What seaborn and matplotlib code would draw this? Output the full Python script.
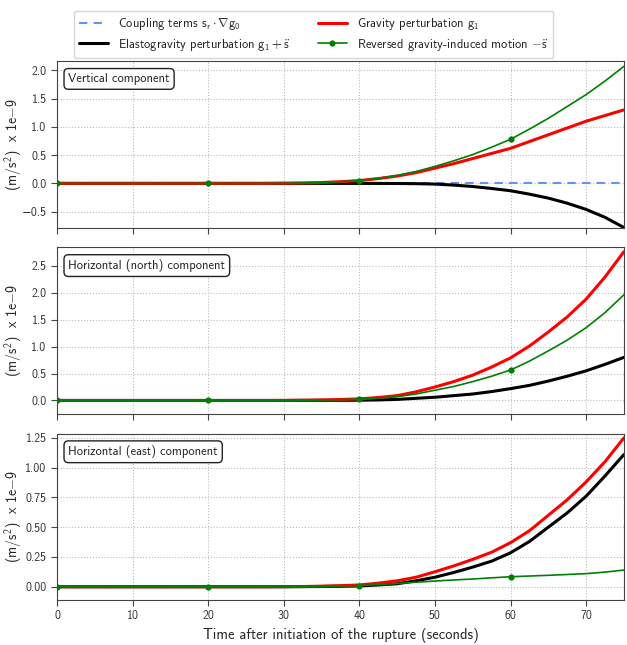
import seaborn as sns
import matplotlib
import matplotlib.pyplot as plt
import numpy as np

matplotlib.use("Agg")

# time after rupture initiation (s), every 2.5 s
time = list(np.arange(0, 75.1, 2.5))
lead = [0.0] * 12  # 0 .. 27.5 s, nothing happens yet

# vertical component (x 1e-9 m/s^2)
vert_coupling = [0.0] * 31
vert_gravity = lead + [0.003, 0.008, 0.015, 0.03, 0.05, 0.085, 0.13, 0.19, 0.27, 0.35,
                       0.44, 0.53, 0.62, 0.74, 0.86, 0.98, 1.10, 1.20, 1.30]
vert_elasto = lead + [0, 0, 0, 0, 0, -0.001, -0.002, -0.005, -0.012, -0.03,
                      -0.055, -0.09, -0.13, -0.19, -0.26, -0.35, -0.46, -0.60, -0.78]
vert_reversed = lead + [0.003, 0.008, 0.015, 0.03, 0.05, 0.09, 0.14, 0.21, 0.30, 0.40,
                        0.51, 0.64, 0.78, 0.96, 1.15, 1.36, 1.57, 1.81, 2.07]

# horizontal (north) component
north_gravity = lead + [0.002, 0.005, 0.01, 0.018, 0.03, 0.055, 0.09, 0.16, 0.25, 0.35,
                        0.47, 0.62, 0.79, 1.01, 1.27, 1.55, 1.88, 2.29, 2.76]
north_elasto = lead + [0, 0.001, 0.002, 0.003, 0.005, 0.01, 0.02, 0.04, 0.06, 0.09,
                       0.12, 0.165, 0.22, 0.28, 0.36, 0.45, 0.55, 0.67, 0.80]
north_reversed = lead + [0.002, 0.004, 0.008, 0.015, 0.025, 0.045, 0.07, 0.12, 0.19, 0.26,
                         0.35, 0.45, 0.565, 0.73, 0.92, 1.12, 1.35, 1.63, 1.96]

# horizontal (east) component
east_gravity = lead + [0.001, 0.002, 0.005, 0.009, 0.015, 0.03, 0.05, 0.08, 0.126, 0.175,
                       0.23, 0.29, 0.37, 0.47, 0.60, 0.73, 0.88, 1.05, 1.25]
east_elasto = lead + [0, 0.001, 0.002, 0.004, 0.007, 0.015, 0.025, 0.05, 0.08, 0.12,
                      0.165, 0.215, 0.285, 0.38, 0.50, 0.62, 0.76, 0.93, 1.11]
east_reversed = lead + [0.001, 0.002, 0.004, 0.006, 0.01, 0.018, 0.027, 0.038, 0.048, 0.057,
                        0.065, 0.075, 0.084, 0.09, 0.096, 0.103, 0.11, 0.123, 0.14]

panel_titles = ["Vertical component", "Horizontal (north) component", "Horizontal (east) component"]
panels = [
    (vert_coupling, vert_elasto, vert_gravity, vert_reversed),
    (None, north_elasto, north_gravity, north_reversed),
    (None, east_elasto, east_gravity, east_reversed),
]
ylims = [(-0.78, 2.16), (-0.245, 2.84), (-0.11, 1.286)]
yticks = [
    [-0.5, 0.0, 0.5, 1.0, 1.5, 2.0],
    [0.0, 0.5, 1.0, 1.5, 2.0, 2.5],
    [0.0, 0.25, 0.5, 0.75, 1.0, 1.25],
]

labels = [
    r"Coupling terms $\mathrm{s_r \cdot \nabla g_0}$",
    r"Elastogravity perturbation $\mathrm{g_1 + \ddot{s}}$",
    r"Gravity perturbation $\mathrm{g_1}$",
    r"Reversed gravity-induced motion $\mathrm{-\ddot{s}}$",
]

sns.set_style("ticks")
plt.rcParams["font.family"] = ["cmss10", "DejaVu Sans"]
plt.rcParams["mathtext.fontset"] = "custom"
plt.rcParams["mathtext.rm"] = "cmss10"
plt.rcParams["mathtext.it"] = "cmss10"
plt.rcParams["mathtext.bf"] = "cmss10"
plt.rcParams["axes.edgecolor"] = "#444444"
plt.rcParams["xtick.color"] = "#444444"
plt.rcParams["ytick.color"] = "#444444"
plt.rcParams["xtick.labelcolor"] = "#333333"
plt.rcParams["ytick.labelcolor"] = "#333333"

fig, axes = plt.subplots(3, 1, figsize=(6.27, 6.45), dpi=100, sharex=True)
fig.subplots_adjust(left=0.091, right=0.995, top=0.905, bottom=0.07, hspace=0.12)

for i, ax in enumerate(axes):
    coupling, elasto, gravity, reversed_motion = panels[i]
    if coupling is not None:
        sns.lineplot(x=time, y=coupling, ax=ax, color="cornflowerblue", lw=1.5,
                     label=labels[0], legend=False)
        ax.lines[-1].set_linestyle((0, (4, 3)))
    sns.lineplot(x=time, y=elasto, ax=ax, color="black", lw=2.2, label=labels[1], legend=False)
    sns.lineplot(x=time, y=gravity, ax=ax, color="red", lw=2.2, label=labels[2], legend=False)
    sns.lineplot(x=time, y=reversed_motion, ax=ax, color="green", lw=1.2, marker="o",
                 markersize=4.5, markeredgewidth=0, markevery=8, label=labels[3], legend=False)

    ax.set_xlim(0, 75)
    ax.set_ylim(*ylims[i])
    ax.set_yticks(yticks[i])
    ax.set_xticks([0, 10, 20, 30, 40, 50, 60, 70])
    ax.grid(True, linestyle=":", color="#bbbbbb", lw=0.8)
    ax.tick_params(labelsize=8.5, length=4)
    ax.set_ylabel(r"(m/s$^2$)  x 1e$-$9", fontsize=10)
    ax.yaxis.set_label_coords(-0.058, 0.5)
    ax.text(0.02, 0.93, panel_titles[i], transform=ax.transAxes, fontsize=9,
            va="top", ha="left",
            bbox=dict(boxstyle="round,pad=0.35", fc="white", ec="#222222", lw=1))

axes[2].set_xlabel("Time after initiation of the rupture (seconds)", fontsize=10.5)

handles, lbls = axes[0].get_legend_handles_labels()
fig.legend(handles, lbls, loc="upper center", bbox_to_anchor=(0.5, 0.993), ncol=2,
           fontsize=9, frameon=True, fancybox=True, edgecolor="#cccccc",
           columnspacing=2.2, handlelength=2.3, labelspacing=0.35, borderpad=0.45)

fig.savefig("out.png", dpi=100)
